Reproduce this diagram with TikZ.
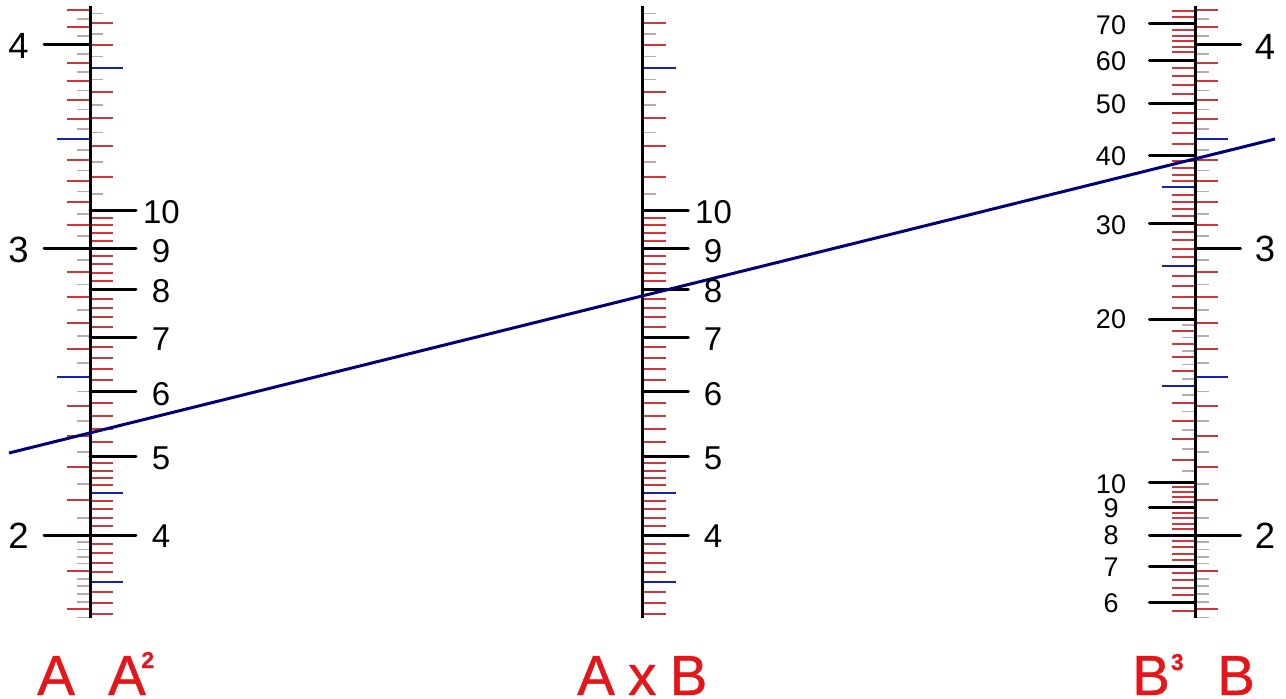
\documentclass[tikz,border=0pt]{standalone}
\usepackage{fontspec}
\setmainfont{Liberation Sans}
\newfontfamily\heavyfont[FakeBold=0.8]{Liberation Sans}
\definecolor{scred}{RGB}{204,56,60}
\definecolor{scgrey}{RGB}{190,168,172}
\definecolor{scblue}{RGB}{24,32,176}
\definecolor{scnavy}{RGB}{0,0,120}
\definecolor{sclabel}{RGB}{228,22,26}
% tick rows, y in pixels of the picture
\def\outerRed{10.3,27.3,62.7,81,100,119,160,180.7,202.3,225,272.3,297.3,322.7,349,406,436,467.3,500.3,571.3,609.3}
\def\outerGrey{19,36,53.7,72,90.3,109.3,129,150,170.3,191.3,213.7,236,260,284.3,309.7,336,363,391.3,421,451.7,483.7,517.7,542,549.3,556.7,563.3,578.7,586,594,601.7,617.3}
\def\outerBlue{139,376.7}
\def\outerBlack{44.7,248.3,535}
\def\squareRed{23.3,44.7,92,118,146.3,177,218,225.3,232.7,240.7,256,264.3,272.7,281.3,298.7,308.3,317.3,327.3,347.3,358,368.7,380,403.3,416,429,442,463,470.7,478,485.3,501,509.3,517.7,526.3,544,553.3,562.7,572.3,592.3,603,613.7}
\def\squareGrey{13.3,34,56.3,79.3,105,132.3,161.7,193.7}
\def\squareBlue{67.7,493.3,582}
\def\squareBlack{210.7,248.3,289.7,337,391.7,456,535}
\def\cubeRed{10.7,17.3,30,35.7,41.3,47,52.3,68,76.3,85,94,112.7,122.7,133.3,144.3,161.3,168.3,175,181.3,195,202,209,216,231.7,239.7,248.7,257,276.3,286.3,297,307.7,331,344,357,371.3,403,420.7,439.3,459.7,487,492,497,502,512.7,518,523.7,529,540.7,547,553.7,560,573.3,580.3,587.7,595,611}
\def\cubeGrey{324.7,337.3,350.7,364.3,379,394.7,411.3,430,449,470.7}
\def\cubeBlue{187,266.3,386.3}
\def\cubeBlack{23.7,60,103.3,155.7,223.7,319,482.3,507.3,535,566.3,602.7}
\begin{document}
\begin{tikzpicture}[x=1pt, y=-1pt,
    redtick/.style={scred, line width=2pt},
    greytick/.style={scgrey, line width=1.6pt},
    bluetick/.style={scblue, line width=2pt},
    blacktick/.style={black, line width=3pt, line cap=round},
    spine/.style={black, line width=2.8pt},
    biglabel/.style={inner sep=0pt, font=\fontsize{36.5}{38}\selectfont},
    numlabel/.style={inner sep=0pt, font=\fontsize{33}{36}\selectfont},
    smalllabel/.style={inner sep=0pt, font=\fontsize{27}{28}\selectfont},
    sidelabel/.style={inner sep=0pt, anchor=base west, text=sclabel,
                      font=\heavyfont\fontsize{56.5}{60}\selectfont}
  ]
    \useasboundingbox (0,0) rectangle (1286,699);

    % Scale A, left of its spine
    \foreach \y in \outerRed   {\draw[redtick]   (66.7,\y) -- (90,\y);}
    \foreach \y in \outerGrey  {\draw[greytick]  (77,\y)   -- (90,\y);}
    \foreach \y in \outerBlue  {\draw[bluetick]  (57,\y)   -- (90,\y);}
    \foreach \y in \outerBlack {\draw[blacktick] (44,\y)   -- (90,\y);}

    % Scale A squared, right of the same spine
    \foreach \y in \squareRed   {\draw[redtick]   (90,\y) -- (113,\y);}
    \foreach \y in \squareGrey  {\draw[greytick]  (90,\y) -- (103,\y);}
    \foreach \y in \squareBlue  {\draw[bluetick]  (90,\y) -- (123,\y);}
    \foreach \y in \squareBlack {\draw[blacktick] (90,\y) -- (136,\y);}
    \draw[spine] (90.3,6) -- (90.3,618);

    % Scale A x B
    \foreach \y in \squareRed   {\draw[redtick]   (642.7,\y) -- (666,\y);}
    \foreach \y in \squareGrey  {\draw[greytick]  (642.7,\y) -- (655.7,\y);}
    \foreach \y in \squareBlue  {\draw[bluetick]  (642.7,\y) -- (676,\y);}
    \foreach \y in \squareBlack {\draw[blacktick] (642.7,\y) -- (688.3,\y);}
    \draw[spine] (642.7,6) -- (642.7,618);

    % Scale B cubed, left of the last spine
    \foreach \y in \cubeRed   {\draw[redtick]   (1172.3,\y) -- (1195.7,\y);}
    \foreach \y in \cubeGrey  {\draw[greytick]  (1182.3,\y) -- (1195.7,\y);}
    \foreach \y in \cubeBlue  {\draw[bluetick]  (1161.7,\y) -- (1195.7,\y);}
    \foreach \y in \cubeBlack {\draw[blacktick] (1149.3,\y) -- (1195.7,\y);}

    % Scale B, right of the last spine
    \foreach \y in \outerRed   {\draw[redtick]   (1195.7,\y) -- (1218.3,\y);}
    \foreach \y in \outerGrey  {\draw[greytick]  (1195.7,\y) -- (1208.7,\y);}
    \foreach \y in \outerBlue  {\draw[bluetick]  (1195.7,\y) -- (1228.3,\y);}
    \foreach \y in \outerBlack {\draw[blacktick] (1195.7,\y) -- (1240.7,\y);}
    \draw[spine] (1195.7,6) -- (1195.7,618);

    % Reading line across the three spines
    \coordinate (lineL) at (9,453);
    \coordinate (lineR) at (1275,139);
    \draw[scnavy, line width=3pt] (lineL) -- (lineR);

    % Numbers beside scale A
    \node[biglabel] (aFour)  at (18.5,46)  {4};
    \node[biglabel] (aThree) at (18.5,250) {3};
    \node[biglabel] (aTwo)   at (18.5,536) {2};

    % Numbers beside scale A squared
    \node[numlabel] (sqTen)   at (161.5,212) {10};
    \node[numlabel] (sqNine)  at (161,251) {9};
    \node[numlabel] (sqEight) at (161,291) {8};
    \node[numlabel] (sqSeven) at (161,339) {7};
    \node[numlabel] (sqSix)   at (161,394) {6};
    \node[numlabel] (sqFive)  at (161,458) {5};
    \node[numlabel] (sqFour)  at (161,536) {4};

    % Numbers beside scale A x B
    \node[numlabel] (mTen)   at (713.5,212) {10};
    \node[numlabel] (mNine)  at (713,251) {9};
    \node[numlabel] (mEight) at (713,291) {8};
    \node[numlabel] (mSeven) at (713,339) {7};
    \node[numlabel] (mSix)   at (713,394) {6};
    \node[numlabel] (mFive)  at (713,458) {5};
    \node[numlabel] (mFour)  at (713,536) {4};

    % Numbers beside scale B cubed
    \node[smalllabel] (cuSeventy) at (1111,25)  {70};
    \node[smalllabel] (cuSixty)   at (1111,61)  {60};
    \node[smalllabel] (cuFifty)   at (1111,104) {50};
    \node[smalllabel] (cuForty)   at (1111,156) {40};
    \node[smalllabel] (cuThirty)  at (1111,225) {30};
    \node[smalllabel] (cuTwenty)  at (1111,319) {20};
    \node[smalllabel] (cuTen)     at (1111,484) {10};
    \node[smalllabel] (cuNine)    at (1111,508) {9};
    \node[smalllabel] (cuEight)   at (1111,535.5) {8};
    \node[smalllabel] (cuSeven)   at (1111,567.5) {7};
    \node[smalllabel] (cuSix)     at (1111,603) {6};

    % Numbers beside scale B
    \node[biglabel] (bFour)  at (1265,47)  {4};
    \node[biglabel] (bThree) at (1265,249) {3};
    \node[biglabel] (bTwo)   at (1265,536) {2};

    % Scale names
    \node[sidelabel] (nameA)   at (37,695)   {A};
    \node[sidelabel] (nameAsq) at (108,695)  {A\kern-4.5pt\raisebox{27pt}{\fontsize{23}{23}\selectfont\bfseries 2}};
    \node[sidelabel] (nameAB)  at (577,695)  {\spaceskip=13.3pt A x B};
    \node[sidelabel] (nameBcu) at (1132,695) {B\kern1pt\raisebox{25pt}{\fontsize{23}{23}\selectfont\bfseries 3}};
    \node[sidelabel] (nameB)   at (1217,695) {B};
  \end{tikzpicture}
\end{document}
